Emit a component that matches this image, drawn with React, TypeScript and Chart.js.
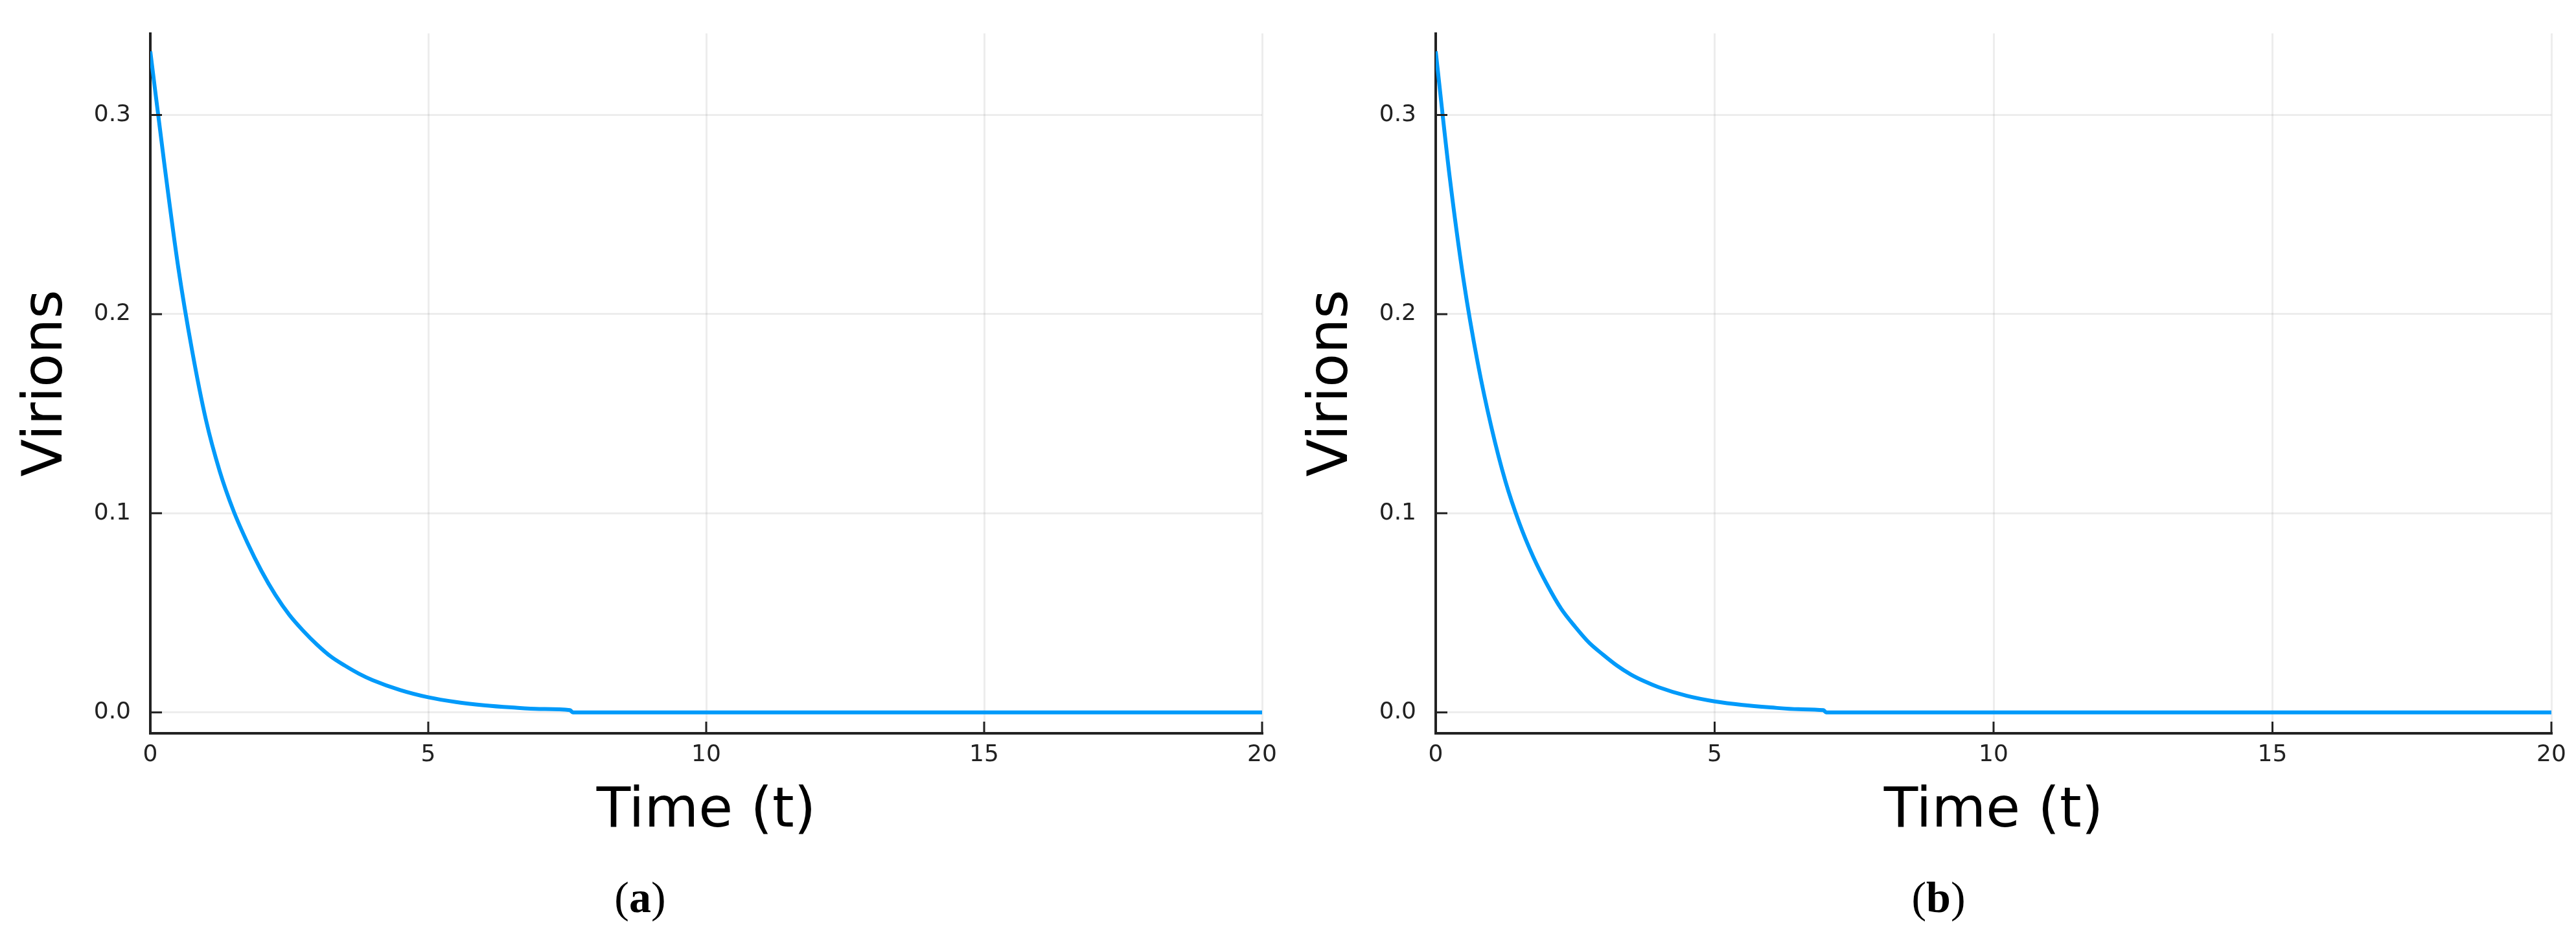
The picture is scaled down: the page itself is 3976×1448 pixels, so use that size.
import React, { useEffect, useRef } from "react";
import { Chart, registerables } from "chart.js";

Chart.register(...registerables);

// ---- data ----
const timesA = [0, 0.25, 0.5, 0.75, 1.0, 1.25, 1.5, 1.75, 2.0, 2.25, 2.5, 2.75, 3.0, 3.25, 3.5, 3.75, 4.0, 4.5, 5.0, 5.5, 6.0, 6.5, 7.0, 7.55, 7.6, 10, 15, 20];
const virionsA = [0.332, 0.276, 0.224, 0.182, 0.147, 0.121, 0.101, 0.085, 0.071, 0.059, 0.049, 0.041, 0.034, 0.028, 0.0235, 0.0195, 0.0162, 0.0112, 0.0076, 0.0052, 0.0036, 0.0025, 0.0017, 0.0011, 0, 0, 0, 0];

const timesB = [0, 0.25, 0.5, 0.75, 1.0, 1.25, 1.5, 1.75, 2.0, 2.25, 2.5, 2.75, 3.0, 3.25, 3.5, 3.75, 4.0, 4.5, 5.0, 5.5, 6.0, 6.5, 6.95, 7.0, 10, 15, 20];
const virionsB = [0.332, 0.269, 0.217, 0.176, 0.143, 0.116, 0.095, 0.078, 0.064, 0.052, 0.043, 0.035, 0.029, 0.0235, 0.019, 0.0155, 0.0126, 0.0083, 0.0055, 0.0037, 0.0025, 0.0016, 0.0011, 0, 0, 0, 0];

const xTicks = [0, 5, 10, 15, 20];
const yTicks = [0, 0.1, 0.2, 0.3];
const xLabel = "Time (t)";
const yLabel = "Virions";
const captionLetters = ["a", "b"];

const LINE_COLOR = "rgb(0,154,250)";
const AXIS_COLOR = "#222";
const GRID_COLOR = "rgba(0,0,0,0.07)";
const FONT = "'DejaVu Sans', sans-serif";

const inwardTicks = {
  id: "inwardTicks",
  afterDraw(chart: any) {
    const { ctx, chartArea } = chart;
    const xs = chart.scales.x;
    const ys = chart.scales.y;
    ctx.save();
    ctx.strokeStyle = AXIS_COLOR;
    ctx.lineWidth = 3;
    ctx.beginPath();
    for (const v of xTicks) {
      const px = xs.getPixelForValue(v);
      ctx.moveTo(px, chartArea.bottom);
      ctx.lineTo(px, chartArea.bottom - 18);
    }
    for (const v of yTicks) {
      const py = ys.getPixelForValue(v);
      ctx.moveTo(chartArea.left, py);
      ctx.lineTo(chartArea.left + 18, py);
    }
    ctx.stroke();
    ctx.restore();
  },
};

function Panel({ times, values, left, width, rightPad }: { times: number[]; values: number[]; left: number; width: number; rightPad: number }) {
  const ref = useRef<HTMLCanvasElement | null>(null);
  const height = 1310;
  useEffect(() => {
    if (!ref.current) return;
    const data = times.map((t, i) => ({ x: t, y: values[i] }));
    const chart = new Chart(ref.current, {
      type: "line",
      data: {
        datasets: [
          {
            data,
            borderColor: LINE_COLOR,
            borderWidth: 6,
            pointRadius: 0,
            fill: false,
            cubicInterpolationMode: "monotone",
          },
        ],
      },
      plugins: [inwardTicks],
      options: {
        animation: false,
        responsive: false,
        devicePixelRatio: 1,
        layout: { padding: { top: 28, right: rightPad, left: 0, bottom: 0 } },
        plugins: { legend: { display: false }, tooltip: { enabled: false } },
        scales: {
          x: {
            type: "linear",
            min: 0,
            max: 20,
            afterBuildTicks: (s: any) => {
              s.ticks = xTicks.map((v) => ({ value: v }));
            },
            afterFit: (s: any) => {
              s.height = 178;
            },
            ticks: {
              callback: (v: any) => String(v),
              font: { family: FONT, size: 36 },
              color: "#222",
              padding: 12,
              maxRotation: 0,
            },
            grid: { color: GRID_COLOR, lineWidth: 3, drawTicks: false },
            border: { display: true, color: AXIS_COLOR, width: 4 },
            title: {
              display: true,
              text: xLabel,
              font: { family: FONT, size: 86 },
              color: "#000",
              padding: { top: 0, bottom: 5 },
            },
          },
          y: {
            type: "linear",
            min: -0.0105,
            max: 0.341,
            afterBuildTicks: (s: any) => {
              s.ticks = yTicks.map((v) => ({ value: v }));
            },
            afterFit: (s: any) => {
              s.width = 232;
            },
            ticks: {
              callback: (v: any) => Number(v).toFixed(1),
              font: { family: FONT, size: 36 },
              color: "#222",
              padding: 30,
            },
            grid: { color: GRID_COLOR, lineWidth: 3, drawTicks: false },
            border: { display: true, color: AXIS_COLOR, width: 4 },
            title: {
              display: true,
              text: yLabel,
              font: { family: FONT, size: 85 },
              color: "#000",
              padding: { top: 22, bottom: 0 },
            },
          },
        },
      } as any,
    });
    return () => chart.destroy();
  }, [times, values]);
  return (
    <canvas
      ref={ref}
      width={width}
      height={height}
      style={{ position: "absolute", left, top: 0, width, height }}
    />
  );
}

function Caption({ letter, center }: { letter: string; center: number }) {
  return (
    <div
      style={{
        position: "absolute",
        left: center - 200,
        top: 1351,
        width: 400,
        textAlign: "center",
        fontFamily: "'Liberation Serif', 'Times New Roman', serif",
        fontSize: 68,
        lineHeight: "68px",
        color: "#000",
      }}
    >
      (<b>{letter}</b>)
    </div>
  );
}

export default function App() {
  return (
    <div style={{ position: "absolute", left: 0, top: 0, width: 3976, height: 1448, background: "#fff" }}>
      <Panel times={timesA} values={virionsA} left={0} width={1988} rightPad={40} />
      <Panel times={timesB} values={virionsB} left={1984} width={1992} rightPad={38} />
      <Caption letter={captionLetters[0]} center={988} />
      <Caption letter={captionLetters[1]} center={2992} />
    </div>
  );
}
